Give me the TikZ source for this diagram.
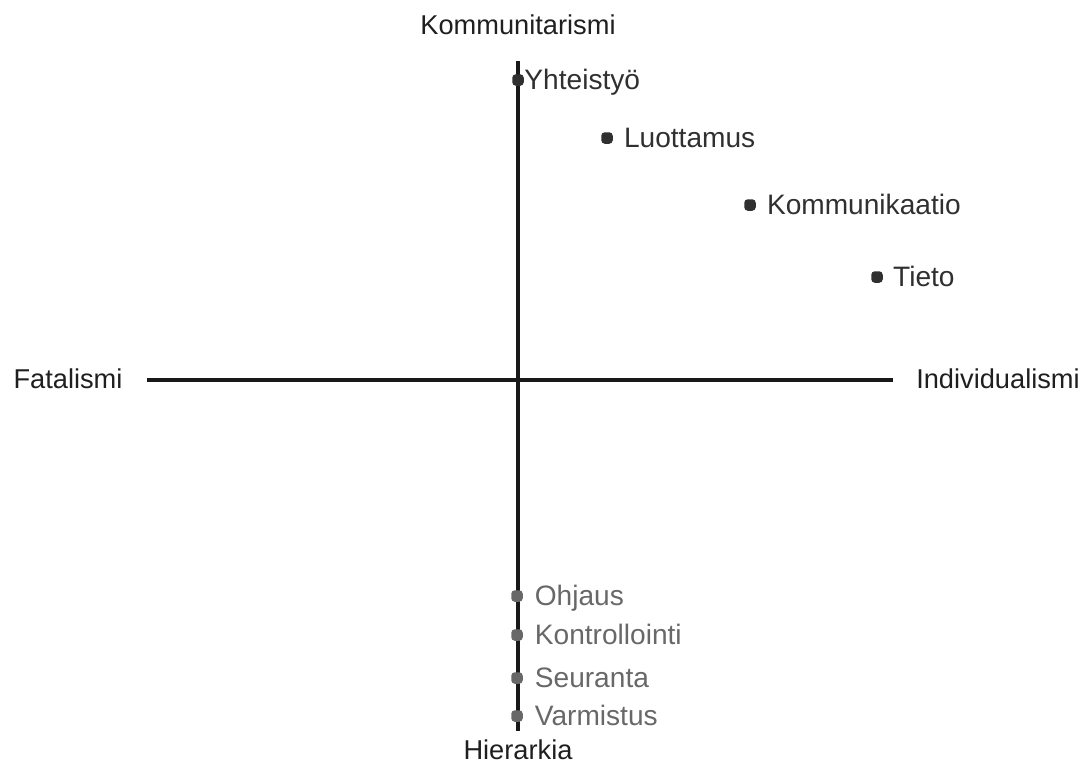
\documentclass[tikz,border=0pt]{standalone}
\usepackage{fontspec}
\setmainfont{Liberation Sans}
\usetikzlibrary{positioning}

\definecolor{pointdark}{HTML}{303030}
\definecolor{pointgray}{HTML}{686868}

\begin{document}
\begin{tikzpicture}[
    x=0.02cm, y=-0.02cm,
    % Styles
    axis/.style={line width=2pt, color=black!90},
    pole/.style={font=\fontsize{15.5}{18}\selectfont, text=black!88, inner sep=0pt, text height=0.72em, text depth=0pt},
    point/.style={fill=#1, rounded corners=2pt, minimum size=0.23cm, inner sep=0pt},
    itemlbl/.style={font=\fontsize{16}{19}\selectfont, text=#1, inner sep=0pt, text height=0.72em, text depth=0pt, anchor=west, yshift=-1.6pt}
]
\useasboundingbox (0,0) rectangle (1089,769);

% Pole labels
\node[pole] (komm) at (518, 28) {Kommunitarismi};
\node[pole] (hier) at (518, 753) {Hierarkia};
\node[pole] (fatal) at (68, 382) {Fatalismi};
\node[pole] (indiv) at (998, 382) {Individualismi};

% Axis ends
\coordinate (ntop) at (518, 61);
\coordinate (sbot) at (518, 731);
\coordinate (wend) at (147, 380);
\coordinate (eend) at (893, 380);

\draw[axis] (ntop) -- (sbot);
\draw[axis] (wend) -- (eend);

% Upper points
\node[point=pointdark] (yht) at (518, 80) {};
\node[itemlbl=pointdark, right=0pt of yht] (yhtl) {Yhteistyö};
\node[point=pointdark] (luot) at (607, 138) {};
\node[itemlbl=pointdark, right=6pt of luot] (luotl) {Luottamus};
\node[point=pointdark] (kom) at (750, 205) {};
\node[itemlbl=pointdark, right=6pt of kom] (koml) {Kommunikaatio};
\node[point=pointdark] (tiet) at (877, 277) {};
\node[itemlbl=pointdark, right=5.5pt of tiet] (tietl) {Tieto};

% Lower points
\node[point=pointgray] (ohj) at (517, 596) {};
\node[itemlbl=pointgray, right=6.5pt of ohj] (ohjl) {Ohjaus};
\node[point=pointgray] (kont) at (517, 635) {};
\node[itemlbl=pointgray, right=6.5pt of kont] (kontl) {Kontrollointi};
\node[point=pointgray] (seur) at (517, 678) {};
\node[itemlbl=pointgray, right=6.5pt of seur] (seurl) {Seuranta};
\node[point=pointgray] (varm) at (517, 716) {};
\node[itemlbl=pointgray, right=6.5pt of varm] (varml) {Varmistus};

\end{tikzpicture}
\end{document}
